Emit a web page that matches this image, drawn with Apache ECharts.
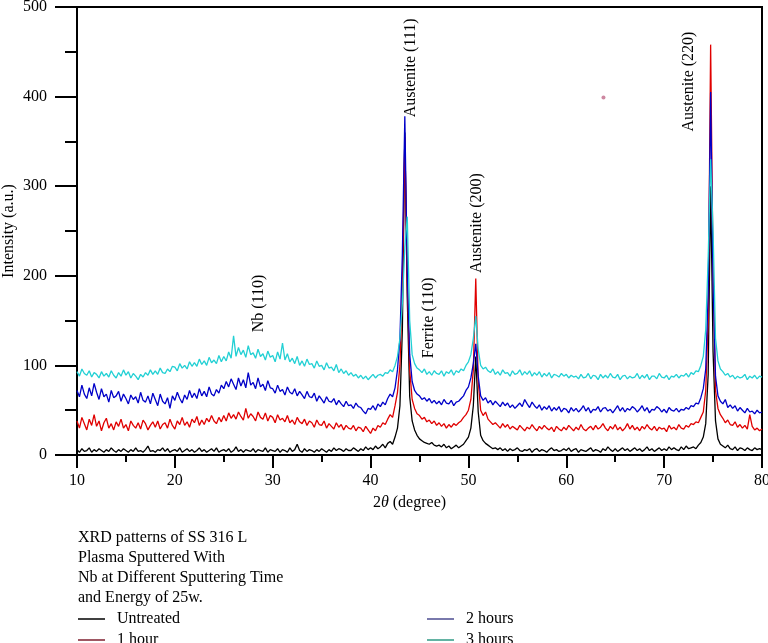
<!DOCTYPE html>
<html>
<head>
<meta charset="utf-8">
<script src="https://cdn.jsdelivr.net/npm/echarts@6/dist/echarts.min.js"></script>
<style>html,body{margin:0;padding:0;background:#fff}#c{width:768px;height:643px}</style>
</head>
<body>
<div id="c"></div>
<script>
// Sampling grid of the 2θ axis (degrees)
const xStart = 10, xStep = 0.25;
const seriesNames = ['Untreated', '1 hour', '2 hours', '3 hours'];
const lineColors = ['#000000', '#e00000', '#0000c8', '#22d0d4'];
const legendColors = ['#000000', '#7f1f2f', '#4c4c90', '#2f9a85'];
// Intensity (a.u.), one value per 0.25°, 10° .. 80°
const untreated = [
6,3,7,4, 5,8,3,6, 4,7,5,3, 6,4,8,5, 3,6,4,7, 5,3,6,4, 8,4,5,3, 6,10,4,5, 3,6,5,8, 4,7,3,5,
6,4,8,3, 5,7,4,6, 3,5,8,4, 6,3,5,7, 4,8,3,5, 6,4,7,3, 5,9,4,6, 3,6,5,4, 7,3,6,5, 4,8,3,6,
5,4,7,3, 6,5,3,8, 4,6,12,5, 3,7,4,6, 5,3,6,4, 7,5,3,6, 4,8,5,7, 6,4,7,5, 5,8,6,4, 7,5,9,6,
8,6,10,7, 9,12,8,13, 15,12,20,30, 55,140,360,175, 65,38,28,22, 18,16,14,13, 12,14,11,10, 11,9,12,8, 10,7,9,11, 8,10,12,16,
20,30,55,110, 48,22,16,13, 11,9,7,8, 6,8,5,7, 4,7,5,6, 8,5,4,6, 5,7,3,6, 7,4,6,5, 3,6,8,5, 6,4,5,7,
5,8,4,6, 7,3,6,5, 4,6,8,4, 6,5,3,7, 5,9,6,4, 7,4,6,8, 5,7,4,6, 8,5,7,4, 6,9,5,7, 4,6,8,5,
7,5,9,6, 8,6,5,9, 6,10,7,8, 9,7,11,14, 20,35,90,300, 115,38,18,12, 10,8,11,7, 6,9,5,8, 7,5,8,6, 5,8,6,7,
6];
const hour1 = [
38,30,42,35, 28,40,33,45, 32,38,27,36, 41,30,35,28, 37,32,40,30, 34,27,38,33, 30,36,29,39, 35,28,33,37, 31,38,29,34, 36,30,40,33,
29,38,34,42, 33,37,31,40, 36,43,33,39, 34,41,37,44, 38,35,42,37, 44,38,47,41, 45,40,48,43, 39,52,41,46, 43,38,48,42, 40,47,38,44,
42,36,45,39, 41,37,44,36, 39,34,42,37, 35,40,33,38, 36,31,39,34, 33,38,30,35, 32,29,36,31, 34,28,33,30, 29,33,27,31, 30,26,32,28,
24,30,27,33, 31,36,34,40, 45,42,55,70, 100,185,355,190, 95,62,52,46, 44,40,42,37, 39,35,38,33, 36,32,35,30, 34,31,35,33, 36,38,42,45,
50,62,95,197, 82,50,44,48, 40,37,34,36, 33,30,35,31, 34,29,32,30, 28,33,30,27, 31,29,34,30, 27,32,29,33, 30,28,31,26, 32,29,27,31,
28,33,30,27, 31,28,34,29, 27,30,32,28, 33,29,31,35, 30,27,32,29, 34,28,31,27, 30,35,29,33, 28,31,27,32, 29,34,30,28, 32,27,31,29,
30,26,33,29, 31,28,34,30, 29,33,31,35, 34,37,36,42, 48,72,150,458, 205,72,52,45, 41,36,39,34, 33,37,31,34, 30,33,29,45, 32,28,30,27,
29];
const hour2 = [
72,65,78,68, 63,75,66,80, 70,62,74,65, 68,59,72,64, 66,71,60,68, 63,57,67,62, 65,58,70,61, 59,66,57,69, 62,55,68,60, 57,64,52,66,
61,70,63,58, 67,62,72,64, 69,63,74,66, 71,65,76,68, 66,73,69,78, 74,82,76,85, 79,73,86,77, 84,75,92,78, 81,74,86,76, 79,72,83,75,
74,69,78,71, 73,67,76,70, 68,74,66,71, 67,63,71,65, 64,69,60,66, 62,58,65,60, 59,63,56,61, 57,54,60,55, 56,52,58,54, 53,49,46,52,
51,55,50,57, 54,59,56,63, 68,65,75,95, 130,225,378,205, 112,82,72,68, 66,62,64,60, 63,58,61,57, 60,56,62,58, 57,61,55,59, 60,63,66,72,
76,86,102,124, 88,66,61,64, 58,61,56,60, 57,54,59,55, 58,53,56,52, 55,58,54,62, 57,53,59,55, 52,56,50,54, 51,55,49,53, 50,54,48,52,
51,47,53,49, 52,48,51,55, 49,53,47,51, 50,54,48,52, 53,49,51,47, 51,55,49,53, 48,52,50,54, 52,48,51,55, 49,53,47,51, 50,54,52,48,
51,47,53,50, 49,52,48,51, 50,53,51,55, 54,58,57,64, 74,96,180,405, 190,88,66,60, 57,62,53,56, 52,55,49,53, 50,47,52,48, 49,46,50,47,
48];
const hour3 = [
93,88,96,91, 89,94,87,92, 90,86,93,88, 91,87,94,89, 86,92,88,95, 89,93,86,91, 88,84,90,87, 92,89,95,90, 94,90,97,92, 91,96,93,99,
98,94,102,97, 100,96,104,99, 103,99,107,101, 105,100,109,103, 106,102,111,104, 110,105,115,108, 133,110,120,112, 117,109,122,112, 114,108,118,110, 113,106,116,109,
111,104,115,107, 125,106,113,104, 108,102,110,100, 105,99,107,101, 102,97,105,99, 100,95,103,97, 98,94,101,92, 96,91,94,89, 92,88,90,86, 89,85,88,84,
87,90,86,89, 90,88,92,91, 95,93,100,110, 130,170,232,266, 150,112,102,97, 95,92,96,90, 93,89,94,91, 90,94,88,93, 91,95,89,94, 92,96,94,100,
104,112,130,155, 118,100,96,98, 94,92,96,90, 93,89,95,91, 92,88,94,90, 91,95,89,93, 90,94,88,92, 89,93,87,91, 88,92,86,90, 89,87,91,88,
90,86,89,87, 88,85,90,86, 87,91,85,89, 88,84,90,86, 89,86,91,87, 86,90,84,88, 89,85,88,86, 87,91,85,89, 86,90,84,88, 88,85,91,87,
86,89,84,88, 87,90,86,89, 88,91,87,92, 90,94,93,100, 110,140,220,330, 250,130,105,96, 93,89,91,87, 89,85,88,86, 87,90,84,88, 86,89,85,88,
87];
// Stray speck in the plot area [2θ, intensity]
const speck = [[63.8, 399]];
// Peak annotations: text, 2θ, intensity at the start (bottom) of the vertical text
const annText = ['Nb (110)', 'Austenite (111)', 'Ferrite (110)', 'Austenite (200)', 'Austenite (220)'];
const annX = [28.55, 44.1, 45.97, 50.9, 72.5];
const annY = [137, 377, 108, 203, 361];
const caption = 'XRD patterns of SS 316 L\nPlasma Sputtered With\nNb at Different Sputtering Time\nand Energy of 25w.';

const FONT = "'Liberation Serif','DejaVu Serif',serif";
const allData = [untreated, hour1, hour2, hour3];
function pairs(vals) { return vals.map((v, i) => [xStart + i * xStep, v]); }

const chart = echarts.init(document.getElementById('c'), null, {renderer: 'canvas'});
const series = allData.map((arr, k) => ({
  type: 'line', name: seriesNames[k], data: pairs(arr),
  symbol: 'none', showSymbol: false, silent: true,
  lineStyle: {width: 1.3, color: lineColors[k]}, itemStyle: {color: lineColors[k]}
}));
series.push({type: 'scatter', name: 'speck', data: speck, symbolSize: 4, silent: true,
  itemStyle: {color: '#c06a8a'}});

function legendBlock(left, idx) {
  return {
    orient: 'vertical', left: left, top: 611, width: 200, height: 80, padding: 0, itemGap: 5,
    icon: 'rect', itemWidth: 27, itemHeight: 1.5, selectedMode: false,
    textStyle: {fontFamily: FONT, fontSize: 16, lineHeight: 16, color: '#000', padding: [0, 0, 0, 7]},
    data: idx.map(i => ({name: seriesNames[i], itemStyle: {color: legendColors[i]}}))
  };
}

chart.setOption({
  animation: false,
  backgroundColor: '#fff',
  title: {text: caption, left: 78, top: 528, padding: 0,
    textStyle: {fontFamily: FONT, fontSize: 16, fontWeight: 'normal', lineHeight: 20, color: '#000'}},
  legend: [legendBlock(78, [0, 1]), legendBlock(427, [2, 3])],
  grid: {left: 77, right: 6, top: 7, bottom: 188, show: true, borderColor: '#000', borderWidth: 2,
    containLabel: false, outerBoundsMode: 'none'},
  xAxis: {
    type: 'value', min: 10, max: 80, interval: 10,
    name: '2{i|θ} (degree)', nameLocation: 'middle', nameGap: 40, nameMoveOverlap: false,
    nameTextStyle: {fontFamily: FONT, fontSize: 16, color: '#000', padding: [0, 20, 0, 0],
      rich: {i: {fontFamily: FONT, fontSize: 16, fontStyle: 'italic', color: '#000'}}},
    axisLine: {show: true, onZero: false, lineStyle: {color: '#000', width: 2}},
    axisTick: {show: true, length: 13, lineStyle: {color: '#000', width: 2}},
    minorTick: {show: true, splitNumber: 2, length: 7, lineStyle: {color: '#000', width: 2}},
    axisLabel: {fontFamily: FONT, fontSize: 16, color: '#000', margin: 18},
    splitLine: {show: false}
  },
  yAxis: {
    type: 'value', min: 0, max: 500, interval: 100,
    name: 'Intensity (a.u.)', nameLocation: 'middle', nameGap: 60, nameMoveOverlap: false,
    nameTextStyle: {fontFamily: FONT, fontSize: 16, color: '#000'},
    axisLine: {show: true, onZero: false, lineStyle: {color: '#000', width: 2}},
    axisTick: {show: true, length: 22, lineStyle: {color: '#000', width: 2}},
    minorTick: {show: true, splitNumber: 2, length: 12, lineStyle: {color: '#000', width: 2}},
    axisLabel: {fontFamily: FONT, fontSize: 16, color: '#000', margin: 30},
    splitLine: {show: false}
  },
  series: series
});

const graphics = annText.map((t, i) => {
  const p = chart.convertToPixel({gridIndex: 0}, [annX[i], annY[i]]);
  return {type: 'text', x: p[0], y: p[1], rotation: Math.PI / 2, silent: true, z: 100,
    style: {text: t, font: "16px " + FONT, fill: '#000', align: 'left', verticalAlign: 'middle'}};
});
chart.setOption({graphic: graphics});
</script>
</body>
</html>
